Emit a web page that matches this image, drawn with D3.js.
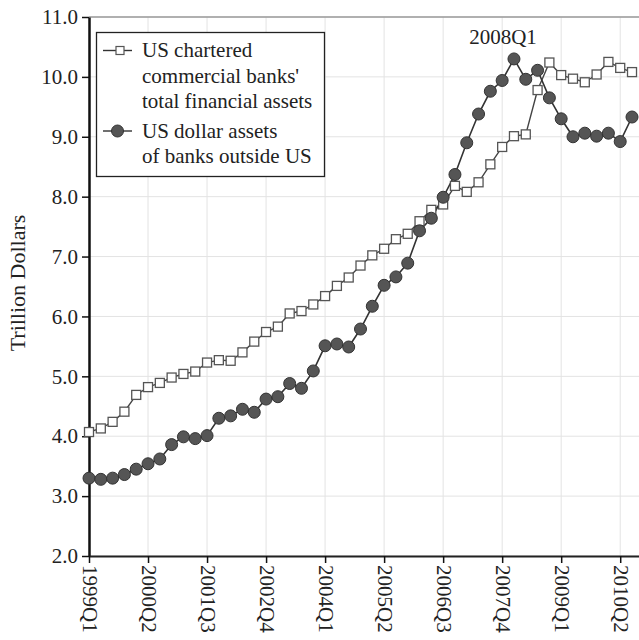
<!DOCTYPE html>
<html>
<head>
<meta charset="utf-8">
<script src="https://cdn.jsdelivr.net/npm/d3@7"></script>
<style>
  html, body { margin: 0; padding: 0; background: #fff; }
  svg { display: block; }
  svg text { font-family: "Liberation Serif", "DejaVu Serif", serif !important; fill: #222; }
</style>
</head>
<body>
<svg id="chart" width="639" height="640"></svg>
<script>
// Quarterly observations, 1999Q1 through 2010Q3 (trillions of US dollars)
const quarters = [];
for (let yr = 1999; yr <= 2010; yr++) {
  for (let q = 1; q <= 4; q++) {
    if (yr === 2010 && q > 3) break;
    quarters.push(yr + "Q" + q);
  }
}

// US chartered commercial banks' total financial assets
const domesticAssets = [
  4.07, 4.13, 4.24, 4.41, 4.69, 4.82, 4.89, 4.98, 5.04, 5.08,
  5.23, 5.27, 5.26, 5.40, 5.58, 5.74, 5.83, 6.05, 6.09, 6.20,
  6.34, 6.51, 6.65, 6.85, 7.02, 7.13, 7.29, 7.38, 7.59, 7.78,
  7.87, 8.18, 8.08, 8.24, 8.54, 8.83, 9.01, 9.04, 9.78, 10.24,
  10.03, 9.97, 9.91, 10.04, 10.25, 10.15, 10.08
];

// US dollar assets of banks outside the US
const offshoreAssets = [
  3.30, 3.28, 3.30, 3.36, 3.45, 3.54, 3.62, 3.86, 3.99, 3.96,
  4.01, 4.30, 4.34, 4.45, 4.40, 4.62, 4.66, 4.88, 4.80, 5.09,
  5.51, 5.54, 5.49, 5.79, 6.17, 6.52, 6.66, 6.89, 7.43, 7.64,
  7.99, 8.37, 8.90, 9.38, 9.76, 9.94, 10.30, 9.96, 10.11, 9.65,
  9.30, 9.00, 9.06, 9.01, 9.06, 8.92, 9.33
];

const yTicks = [2, 3, 4, 5, 6, 7, 8, 9, 10, 11];
const xTickLabels = ["1999Q1", "2000Q2", "2001Q3", "2002Q4", "2004Q1",
                     "2005Q2", "2006Q3", "2007Q4", "2009Q1", "2010Q2"];
const peakLabel = "2008Q1";

const legendLines = [
  ["US chartered", "commercial banks'", "total financial assets"],
  ["US dollar assets", "of banks outside US"]
];

const svg = d3.select("#chart");
const plotLeft = 89, plotTop = 17, plotBottom = 556, plotRight = 645;

const x = d3.scaleLinear().domain([0, 47.1]).range([plotLeft, plotRight]);
const y = d3.scaleLinear().domain([2, 11]).range([plotBottom, plotTop]);

const xTickIdx = xTickLabels.map(l => quarters.indexOf(l));

// grid
const grid = svg.append("g");
grid.selectAll(".gx").data(xTickIdx).join("line")
  .attr("x1", d => x(d)).attr("x2", d => x(d))
  .attr("y1", plotTop).attr("y2", plotBottom)
  .attr("stroke", "#e3e3e3").attr("stroke-width", 1);
grid.selectAll(".gy").data(yTicks).join("line")
  .attr("x1", plotLeft).attr("x2", 639)
  .attr("y1", d => y(d)).attr("y2", d => y(d))
  .attr("stroke", "#e3e3e3").attr("stroke-width", 1);

// top frame line
svg.append("line")
  .attr("x1", plotLeft).attr("x2", 639).attr("y1", plotTop).attr("y2", plotTop)
  .attr("stroke", "#9a9a9a").attr("stroke-width", 1.5);

// axes
const yAxis = d3.axisLeft(y).tickValues(yTicks).tickFormat(d3.format(".1f"))
  .tickSize(7).tickPadding(4).tickSizeOuter(0);
const gy = svg.append("g").attr("transform", `translate(${plotLeft},0)`).call(yAxis);
gy.select(".domain").attr("stroke", "#111").attr("stroke-width", 2.5);
gy.selectAll(".tick line").attr("stroke", "#111").attr("stroke-width", 1.5);
gy.selectAll(".tick text").attr("font-size", 21);

const xAxis = d3.axisBottom(x).tickValues(xTickIdx)
  .tickFormat(d => quarters[d]).tickSize(7).tickSizeOuter(0);
const gx = svg.append("g").attr("transform", `translate(0,${plotBottom})`).call(xAxis);
gx.select(".domain").attr("stroke", "#222").attr("stroke-width", 2);
gx.selectAll(".tick line").attr("stroke", "#111").attr("stroke-width", 1.5);
gx.selectAll(".tick text")
  .attr("font-size", 21)
  .attr("transform", "rotate(90)")
  .attr("text-anchor", "start")
  .attr("x", 9).attr("y", 0).attr("dy", "0.33em");

// y axis title
svg.append("text")
  .attr("transform", `translate(25,283) rotate(-90)`)
  .attr("text-anchor", "middle")
  .attr("font-size", 22)
  .text("Trillion Dollars");

// series lines
const line = d3.line().x((d, i) => x(i)).y(d => y(d));
svg.append("path").datum(domesticAssets).attr("d", line)
  .attr("fill", "none").attr("stroke", "#444").attr("stroke-width", 1.4);
svg.append("path").datum(offshoreAssets).attr("d", line)
  .attr("fill", "none").attr("stroke", "#333").attr("stroke-width", 1.6);

// markers
const sq = 9;
svg.append("g").selectAll("rect").data(domesticAssets).join("rect")
  .attr("x", (d, i) => x(i) - sq / 2).attr("y", d => y(d) - sq / 2)
  .attr("width", sq).attr("height", sq)
  .attr("fill", "#fff").attr("stroke", "#555").attr("stroke-width", 1.3);
svg.append("g").selectAll("circle").data(offshoreAssets).join("circle")
  .attr("cx", (d, i) => x(i)).attr("cy", d => y(d)).attr("r", 6)
  .attr("fill", "#555").attr("stroke", "#333").attr("stroke-width", 1);

// peak annotation
const peakIdx = quarters.indexOf(peakLabel);
svg.append("text")
  .attr("x", x(peakIdx) - 11).attr("y", 44)
  .attr("text-anchor", "middle").attr("font-size", 21)
  .text(peakLabel);

// legend
const lg = svg.append("g");
lg.append("rect").attr("x", 96.5).attr("y", 32.5).attr("width", 228).attr("height", 144)
  .attr("fill", "#fff").attr("stroke", "#222").attr("stroke-width", 1.3);
const rowY = [50.5, 131];
const lineGap = 25.5;
legendLines.forEach((lines, k) => {
  const cy = rowY[k];
  lg.append("line").attr("x1", 103).attr("x2", 132).attr("y1", cy).attr("y2", cy)
    .attr("stroke", "#333").attr("stroke-width", 1.4);
  if (k === 0) {
    lg.append("rect").attr("x", 120 - sq / 2 + 0.5).attr("y", cy - sq / 2 + 0.5)
      .attr("width", sq - 1).attr("height", sq - 1)
      .attr("fill", "#fff").attr("stroke", "#555").attr("stroke-width", 1.2);
  } else {
    lg.append("circle").attr("cx", 117.5).attr("cy", cy).attr("r", 6)
      .attr("fill", "#555").attr("stroke", "#333");
  }
  lines.forEach((t, j) => {
    lg.append("text").attr("x", 142).attr("y", cy + j * lineGap).attr("dy", "0.33em")
      .attr("font-size", 21).text(t);
  });
});
</script>
</body>
</html>
